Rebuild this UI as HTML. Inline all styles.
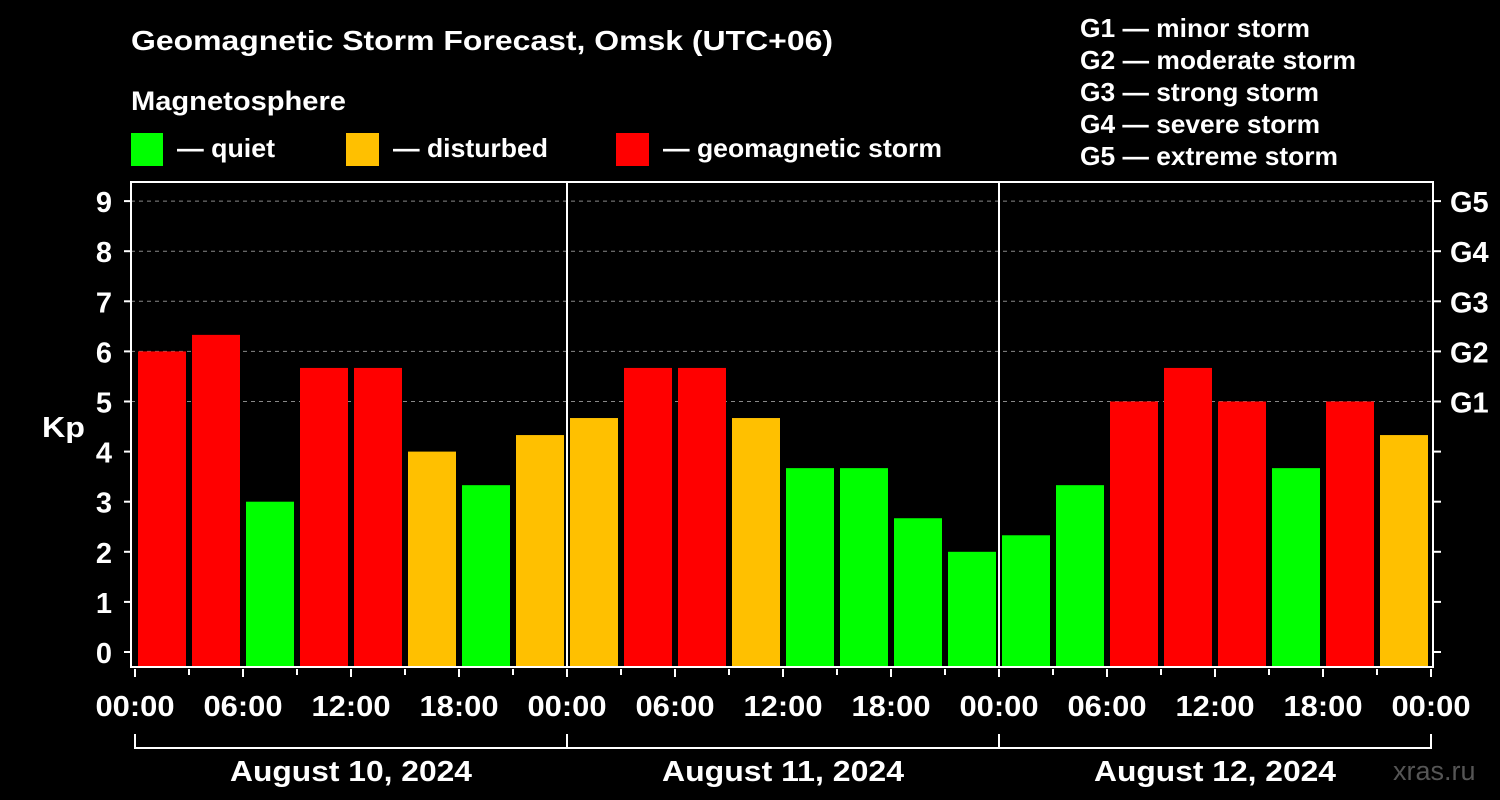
<!DOCTYPE html>
<html><head><meta charset="utf-8"><style>
body{margin:0;background:#000;}
svg{display:block;font-family:"Liberation Sans",Arial,sans-serif;font-weight:bold;}
</style></head><body>
<svg width="1500" height="800" viewBox="0 0 1500 800" id="chart">
<rect width="1500" height="800" fill="#000"/>
<text x="131" y="50" fill="#fff" font-size="28" textLength="702" lengthAdjust="spacingAndGlyphs">Geomagnetic Storm Forecast, Omsk (UTC+06)</text>
<text x="131" y="110" fill="#fff" font-size="27" textLength="215" lengthAdjust="spacingAndGlyphs">Magnetosphere</text>
<g><rect x="131" y="133" width="32" height="33" fill="#00ff00"/><text x="177" y="157" fill="#fff" font-size="26" textLength="98" lengthAdjust="spacingAndGlyphs">— quiet</text></g>
<g><rect x="346" y="133" width="33" height="33" fill="#ffc000"/><text x="393" y="157" fill="#fff" font-size="26" textLength="155" lengthAdjust="spacingAndGlyphs">— disturbed</text></g>
<g><rect x="616" y="133" width="33" height="33" fill="#ff0000"/><text x="663" y="157" fill="#fff" font-size="26" textLength="279" lengthAdjust="spacingAndGlyphs">— geomagnetic storm</text></g>
<g fill="#fff" font-size="26">
<text x="1080" y="37" textLength="230" lengthAdjust="spacingAndGlyphs">G1 — minor storm</text>
<text x="1080" y="69" textLength="276" lengthAdjust="spacingAndGlyphs">G2 — moderate storm</text>
<text x="1080" y="101" textLength="239" lengthAdjust="spacingAndGlyphs">G3 — strong storm</text>
<text x="1080" y="133" textLength="240" lengthAdjust="spacingAndGlyphs">G4 — severe storm</text>
<text x="1080" y="165" textLength="258" lengthAdjust="spacingAndGlyphs">G5 — extreme storm</text>
</g>
<text x="42" y="437" fill="#fff" font-size="29" textLength="43" lengthAdjust="spacingAndGlyphs">Kp</text>
<text x="1393" y="780" fill="#555" font-size="27" font-weight="normal">xras.ru</text>
<g id="grid"></g><g id="bars"></g><g id="axes"></g>
</svg>
<script>
const kpValues=[6.0,6.33,3.0,5.67,5.67,4.0,3.33,4.33, 4.67,5.67,5.67,4.67,3.67,3.67,2.67,2.0, 2.33,3.33,5.0,5.67,5.0,3.67,5.0,4.33];
const days=["August 10, 2024","August 11, 2024","August 12, 2024"];
const timeLabels=["00:00","06:00","12:00","18:00"];
const yTicks=[0,1,2,3,4,5,6,7,8,9];
const gLabels=["G1","G2","G3","G4","G5"];
const NS="http://www.w3.org/2000/svg";
const X0=135,HOUR=18,L=131,R=1433,T=182,B=667;
const y=v=>652-50.1*v;
const x=h=>X0+h*HOUR;
function mk(tag,attrs,parent,txt){const e=document.createElementNS(NS,tag);for(const k in attrs)e.setAttribute(k,attrs[k]);if(txt!==undefined)e.textContent=txt;parent.appendChild(e);return e;}
const grid=document.getElementById('grid'),bars=document.getElementById('bars'),axes=document.getElementById('axes');
gLabels.forEach((g,i)=>{const v=5+i;
 const l=mk('line',{x1:L,x2:R,y1:y(v),y2:y(v),stroke:'#888','stroke-dasharray':'4,4','stroke-width':1},grid);
 
 
 const t=mk('text',{x:1450,y:y(v)+11,fill:'#fff','font-size':29},axes,g);
 
 
});
kpValues.forEach((v,i)=>{
 const c=v>=5?'#ff0000':(v>=4?'#ffc000':'#00ff00');
 const r=mk('rect',{x:x(i*3)+3,y:y(v),width:48,height:B-y(v),fill:c},bars);
 
 
});
mk('rect',{x:L,y:T,width:R-L,height:B-T,fill:'none',stroke:'#fff','stroke-width':2},axes);
[1,2].forEach(d=>{const l=mk('line',{x1:x(d*24),x2:x(d*24),y1:T,y2:B,stroke:'#fff','stroke-width':2},axes);
 
 });
yTicks.forEach(v=>{
 mk('line',{x1:L-7,x2:L,y1:y(v),y2:y(v),stroke:'#fff','stroke-width':2},axes);
 mk('line',{x1:R,x2:R+8,y1:y(v),y2:y(v),stroke:'#fff','stroke-width':2},axes);
 const t=mk('text',{x:104,y:y(v)+11,fill:'#fff','font-size':29,'text-anchor':'middle'},axes,String(v));
 
 
});
for(let h=0;h<=72;h+=3){
 const major=h%6===0;
 mk('line',{x1:x(h),x2:x(h),y1:B+2,y2:B+(major?10:8),stroke:'#fff','stroke-width':2},axes);
 if(major){const t=mk('text',{x:x(h)-39.5,y:716,fill:'#fff','font-size':29,textLength:79,lengthAdjust:'spacingAndGlyphs'},axes,timeLabels[(h/6)%4]);
  
  }
}
mk('path',{d:`M${x(0)} 734V748H${x(72)}V734M${x(24)} 734V748M${x(48)} 734V748`,stroke:'#fff','stroke-width':2,fill:'none'},axes);
days.forEach((d,i)=>{const t=mk('text',{x:x(i*24+12)-121,y:781,fill:'#fff','font-size':29,textLength:242,lengthAdjust:'spacingAndGlyphs'},axes,d);
 
 });
</script>
</body></html>
